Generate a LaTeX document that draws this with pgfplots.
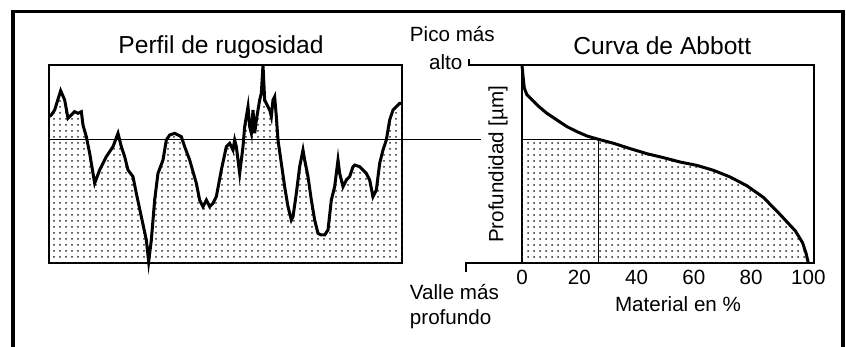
\documentclass[border=0pt]{standalone}
\usepackage{pgfplots}
\pgfplotsset{compat=1.18}
\usepackage{fontspec}
\setmainfont{Liberation Sans}
\usetikzlibrary{patterns}
\pgfdeclarepatternformonly{sparsedots}{\pgfqpoint{-0.6pt}{-0.6pt}}{\pgfqpoint{0.6pt}{0.6pt}}{\pgfqpoint{3pt}{3pt}}{\pgfpathcircle{\pgfqpoint{0pt}{0pt}}{0.5pt}\pgfusepath{fill}}
\newcommand{\lbl}{\fontsize{10.3}{12}\selectfont}
\newcommand{\ttl}{\fontsize{12.3}{14}\selectfont}
\pgfplotsset{every axis title shift=0pt}
\begin{document}
\begin{tikzpicture}
\useasboundingbox (0,0) rectangle (423pt,173.5pt);
\draw[line width=1.6pt] (6.5pt,-2pt) -- (6.5pt,167.8pt) -- (421.5pt,167.8pt) -- (421.5pt,-2pt);
% ---- left: profile
\begin{axis}[
  at={(24.5pt,42pt)}, anchor=south west, scale only axis,
  width=176.5pt, height=99pt,
  xmin=0, xmax=1059, ymin=0, ymax=594,
  xtick=\empty, ytick=\empty,
  axis line style={line width=0.8pt},
  clip=false,
  title={Perfil de rugosidad},
  title style={at={(axis cs:516,629)}, anchor=base, font=\ttl},
]
\addplot[draw=none, pattern=sparsedots, pattern color=black!85] coordinates {
(0,439) (7,444) (17,459) (35,517) (47,489) (57,434) (67,444) (77,454) (87,449) (97,454)
(102,414) (112,379) (122,329) (137,239) (152,279) (172,319) (192,349) (207,389) (217,349)
(227,319) (237,279) (252,259) (262,209) (277,139) (292,69) (299,4) (307,69) (317,189)
(327,269) (342,309) (352,369) (362,384) (377,389) (397,379) (407,349) (422,309) (442,239)
(452,189) (462,169) (472,189) (482,169) (492,179) (502,199) (517,279) (532,349) (542,359)
(552,339) (557,369) (562,349) (572,269) (582,349) (587,409) (592,439) (597,469) (602,409)
(607,389) (612,459) (617,389) (622,429) (632,489) (637,509) (642,594) (647,489) (657,469)
(662,459) (667,439) (672,489) (677,499) (682,439) (687,369) (697,299) (707,229) (717,169)
(727,129) (732,139) (742,209) (752,289) (762,339) (767,309) (777,259) (787,189) (797,129)
(807,89) (817,84) (827,84) (837,99) (847,189) (857,229) (867,309) (872,269) (882,229)
(892,249) (902,259) (912,289) (917,294) (932,289) (942,279) (952,269) (962,249) (972,199)
(982,219) (992,299) (1002,339) (1012,369) (1022,429) (1032,459) (1042,469) (1052,479) (1059,479)
} \closedcycle;
\addplot[line width=1.5pt, line join=miter] coordinates {
(0,439) (7,444) (17,459) (35,517) (47,489) (57,434) (67,444) (77,454) (87,449) (97,454)
(102,414) (112,379) (122,329) (137,239) (152,279) (172,319) (192,349) (207,389) (217,349)
(227,319) (237,279) (252,259) (262,209) (277,139) (292,69) (299,4) (307,69) (317,189)
(327,269) (342,309) (352,369) (362,384) (377,389) (397,379) (407,349) (422,309) (442,239)
(452,189) (462,169) (472,189) (482,169) (492,179) (502,199) (517,279) (532,349) (542,359)
(552,339) (557,369) (562,349) (572,269) (582,349) (587,409) (592,439) (597,469) (602,409)
(607,389) (612,459) (617,389) (622,429) (632,489) (637,509) (642,594) (647,489) (657,469)
(662,459) (667,439) (672,489) (677,499) (682,439) (687,369) (697,299) (707,229) (717,169)
(727,129) (732,139) (742,209) (752,289) (762,339) (767,309) (777,259) (787,189) (797,129)
(807,89) (817,84) (827,84) (837,99) (847,189) (857,229) (867,309) (872,269) (882,229)
(892,249) (902,259) (912,289) (917,294) (932,289) (942,279) (952,269) (962,249) (972,199)
(982,219) (992,299) (1002,339) (1012,369) (1022,429) (1032,459) (1042,469) (1052,479) (1059,479)
};
\addplot[line width=0.6pt] coordinates {(0,371) (1295,371)};
\end{axis}
% ---- right: Abbott curve
\begin{axis}[
  at={(261pt,42pt)}, anchor=south west, scale only axis,
  width=146pt, height=99pt,
  xmin=0, xmax=102, ymin=0, ymax=594,
  xtick={0,20,40,60,80,100}, ytick=\empty,
  xtick style={draw=none},
  xticklabel style={font=\lbl},
  /pgf/number format/assume math mode=true,
  axis line style={line width=0.8pt},
  clip=false,
  title={Curva de Abbott},
  title style={at={(axis cs:49,624)}, anchor=base, font=\ttl},
  xlabel={Material en \%},
  xlabel style={at={(axis cs:54.5,-147)}, anchor=base, font=\lbl},
  ylabel={Profundidad [µm]},
  ylabel style={at={(axis cs:-8.4,296)}, anchor=center, font=\lbl},
]
\addplot[draw=none, pattern=sparsedots, pattern color=black!85] coordinates {
(0,0) (0,371) (26.7,371) (32,359) (37.8,343) (43.6,328) (49.4,316) (55.2,303) (61.0,293)
(66.9,278) (72.7,258) (78.5,232) (84.3,197) (90.1,146) (95.5,96) (98,61) (99.2,30) (100,0)
} -- cycle;
\addplot[line width=1.5pt] coordinates {
(0,594) (0.35,561) (0.8,525) (1.7,505) (3.5,490) (5.8,470) (8.7,449) (12.2,429) (15.7,409)
(19.2,394) (22.7,381) (26.7,371) (32,359) (37.8,343) (43.6,328) (49.4,316) (55.2,303) (61.0,293)
(66.9,278) (72.7,258) (78.5,232) (84.3,197) (90.1,146) (95.5,96) (98,61) (99.2,30) (100,0)
};
\addplot[line width=0.6pt] coordinates {(0,371) (26.7,371) (26.7,0)};
\addplot[line width=0.8pt] coordinates {(-18.5,612) (-18.5,594) (0,594)};
\addplot[line width=0.8pt] coordinates {(-19.6,-27) (-19.6,0) (0,0)};
\node[anchor=base west, font=\lbl] at (axis cs:-41.6,663) {Pico más};
\node[anchor=base west, font=\lbl] at (axis cs:-34.9,579) {alto};
\node[anchor=base west, font=\lbl] at (axis cs:-41.6,-111) {Valle más};
\node[anchor=base west, font=\lbl] at (axis cs:-41.6,-186) {profundo};
\end{axis}
\end{tikzpicture}
\end{document}
